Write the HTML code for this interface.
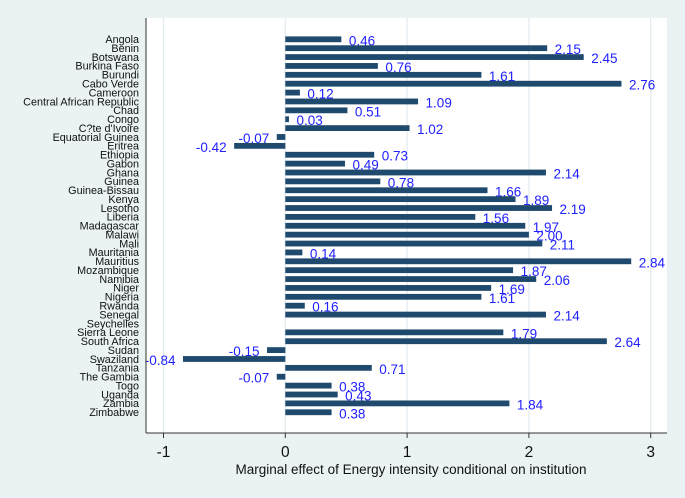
<!DOCTYPE html>
<html><head><meta charset="utf-8"><style>
html,body{margin:0;padding:0;background:#eaf2f3;}
svg{display:block;font-family:"Liberation Sans",sans-serif;}
</style></head><body>
<svg id="chart" width="685" height="498">
<rect x="0" y="0" width="685" height="498" fill="#eaf2f3"/>
<rect x="146" y="18" width="521" height="415" fill="#ffffff"/>
<g id="grid"></g><g id="bars"></g><g id="axes"></g>
<text x="411" y="474" font-size="13.5" text-anchor="middle" fill="#111">Marginal effect of Energy intensity conditional on institution</text>
</svg>
<script>
const countries=["Angola","Benin","Botswana","Burkina Faso","Burundi","Cabo Verde","Cameroon","Central African Republic","Chad","Congo","C?te d'Ivoire","Equatorial Guinea","Eritrea","Ethiopia","Gabon","Ghana","Guinea","Guinea-Bissau","Kenya","Lesotho","Liberia","Madagascar","Malawi","Mali","Mauritania","Mauritius","Mozambique","Namibia","Niger","Nigeria","Rwanda","Senegal","Seychelles","Sierra Leone","South Africa","Sudan","Swaziland","Tanzania","The Gambia","Togo","Uganda","Zambia","Zimbabwe"];
const values=[0.46,2.15,2.45,0.76,1.61,2.76,0.12,1.09,0.51,0.03,1.02,-0.07,-0.42,0.73,0.49,2.14,0.78,1.66,1.89,2.19,1.56,1.97,2.00,2.11,0.14,2.84,1.87,2.06,1.69,1.61,0.16,2.14,null,1.79,2.64,-0.15,-0.84,0.71,-0.07,0.38,0.43,1.84,0.38];
const xTicks=[-1,0,1,2,3];
const NS="http://www.w3.org/2000/svg";
const xs=v=>285.3+v*121.8;
const ys=i=>39.3+i*8.88;
function mk(tag,attrs,parent,txt){const e=document.createElementNS(NS,tag);for(const k in attrs)e.setAttribute(k,attrs[k]);if(txt!=null)e.textContent=txt;parent.appendChild(e);return e;}
const grid=document.getElementById('grid'),bars=document.getElementById('bars'),axes=document.getElementById('axes');
xTicks.forEach(t=>{
  const g=mk('line',{x1:xs(t),x2:xs(t),y1:18,y2:433,stroke:'#e3ecef','stroke-width':1.3},grid);
  
  
  const tk=mk('line',{x1:xs(t),x2:xs(t),y1:433,y2:438,stroke:'#333','stroke-width':1},axes);
  
  
  const tl=mk('text',{x:xs(t),y:457,'font-size':15.5,'text-anchor':'middle',fill:'#111'},axes,String(t));
  
  
});
countries.forEach((c,i)=>{
  const y=ys(i);
  const lab=mk('text',{x:139,y:y+3.8,'font-size':10.8,'text-anchor':'end',fill:'#111'},axes,c);
  
  
  const v=values[i];
  if(v==null)return;
  const x0=xs(0),x1=xs(v);
  const r=mk('rect',{x:Math.min(x0,x1),y:y-2.9,width:Math.abs(x1-x0),height:5.8,fill:'#1f4a6e'},bars);
  
  
  const lx=v>=0?x1+7.5:x1-7.5;
  const vt=mk('text',{x:lx,y:y+6,'font-size':13.5,'text-anchor':v>=0?'start':'end',fill:'#2020ff'},bars,v.toFixed(2));
  
  
});
const la=mk('line',{x1:146,x2:146,y1:18,y2:433,stroke:'#333','stroke-width':1},axes);


const ba=mk('line',{x1:146,x2:667,y1:433,y2:433,stroke:'#333','stroke-width':1},axes);


</script>
</body></html>
